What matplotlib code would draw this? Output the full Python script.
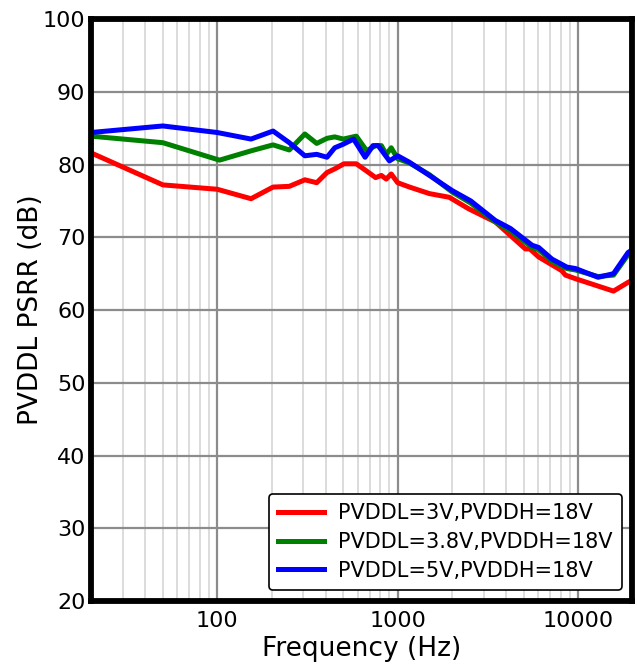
import matplotlib
matplotlib.use("Agg")
import matplotlib.pyplot as plt
from matplotlib.ticker import FixedLocator, NullFormatter, LogLocator

# --- data (Hz, dB) ---
f_red = [20, 50, 100, 154, 204, 251, 306, 356, 406, 448, 504, 590, 673, 755, 812, 865,
         921, 1000, 1164, 1500, 1930, 2480, 3480, 5100, 5400, 6040, 8120, 8500, 9680, 15700,
         18900, 20000]
db_red = [81.6, 77.2, 76.6, 75.3, 76.9, 77.0, 77.9, 77.5, 78.9, 79.4, 80.1, 80.1, 79.1, 78.2,
          78.5, 78.0, 78.7, 77.5, 76.9, 76.0, 75.5, 73.9, 72.1, 68.4, 68.4, 67.3, 65.4, 64.8,
          64.3, 62.6, 63.8, 64.1]

f_green = [20, 50, 103, 155, 204, 251, 306, 356, 406, 448, 500, 590, 673, 755, 812, 865,
           921, 1000, 1164, 1500, 2010, 2540, 3480, 4220, 5560, 6040, 7160, 8660, 9680,
           12900, 15700, 18900, 20000]
db_green = [83.9, 83.0, 80.6, 81.9, 82.7, 82.0, 84.2, 82.9, 83.6, 83.8, 83.5, 83.9, 81.9,
            82.6, 82.6, 81.4, 82.3, 80.8, 80.2, 78.6, 76.2, 74.7, 72.1, 70.9, 68.6, 68.3,
            66.7, 65.7, 65.5, 64.6, 64.8, 67.6, 68.1]

f_blue = [20, 50, 100, 154, 204, 251, 306, 356, 406, 448, 500, 570, 660, 730, 780, 900,
          1000, 1164, 1500, 2010, 2540, 3480, 4220, 5560, 6040, 7160, 8660, 9680, 12900,
          15700, 18900, 20000]
db_blue = [84.4, 85.3, 84.4, 83.5, 84.6, 83.0, 81.2, 81.4, 81.0, 82.3, 82.8, 83.5, 81.0,
           82.6, 82.6, 80.5, 81.2, 80.3, 78.5, 76.4, 75.0, 72.3, 71.2, 68.9, 68.6, 67.0,
           65.9, 65.7, 64.5, 65.0, 67.9, 68.3]

labels = ["PVDDL=3V,PVDDH=18V", "PVDDL=3.8V,PVDDH=18V", "PVDDL=5V,PVDDH=18V"]
x_ticks = [100, 1000, 10000]
x_ticklabels = ["100", "1000", "10000"]
y_ticks = [20, 30, 40, 50, 60, 70, 80, 90, 100]

fig = plt.figure(figsize=(6.37, 6.65), dpi=100)
ax = fig.add_axes([0.1429, 0.0962, 0.850, 0.8752])

lw = 3.6
ax.plot(f_red, db_red, color="#ff0000", lw=lw, label=labels[0], solid_joinstyle="round")
ax.plot(f_green, db_green, color="#008000", lw=lw, label=labels[1], solid_joinstyle="round")
ax.plot(f_blue, db_blue, color="#0000ff", lw=lw, label=labels[2], solid_joinstyle="round")

ax.set_xscale("log")
ax.set_xlim(20, 20000)
ax.set_ylim(20, 100)
ax.xaxis.set_major_locator(FixedLocator(x_ticks))
ax.set_xticklabels(x_ticklabels)
ax.xaxis.set_minor_locator(LogLocator(base=10, subs=range(2, 10)))
ax.xaxis.set_minor_formatter(NullFormatter())
ax.set_yticks(y_ticks)

ax.grid(which="major", color="#8c8c8c", lw=1.6, zorder=0)
ax.grid(which="minor", axis="x", color="#dcdcdc", lw=1.4, zorder=0)
ax.set_axisbelow(True)

for s in ax.spines.values():
    s.set_linewidth(4.2)
    s.set_color("black")
ax.tick_params(which="both", length=0, labelsize=16, pad=4)
ax.tick_params(axis="x", pad=7)

ax.set_xlabel("Frequency (Hz)", fontsize=19, labelpad=4)
ax.set_ylabel("PVDDL PSRR (dB)", fontsize=19, labelpad=-1)

leg = ax.legend(loc="lower right", fontsize=15, frameon=True, fancybox=True,
                edgecolor="black", framealpha=1, handlelength=2.2, handletextpad=0.7,
                bbox_to_anchor=(0.981, 0.019), borderaxespad=0, borderpad=0.45,
                labelspacing=0.42)
leg.get_frame().set_linewidth(1.2)

fig.savefig("out.png", dpi=100)
